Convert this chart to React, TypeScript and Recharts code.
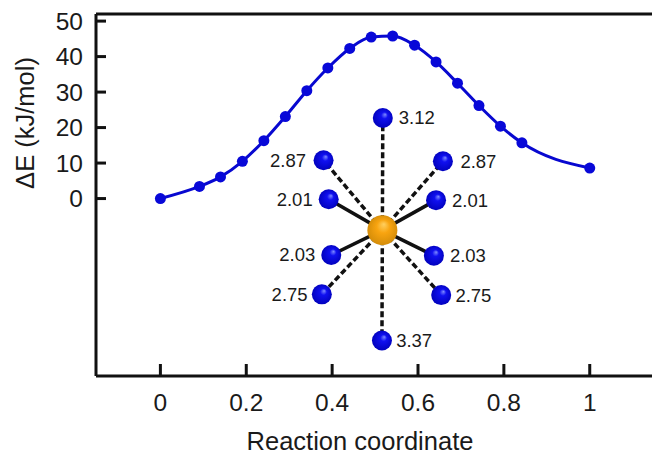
import { ComposedChart, Line, Scatter, XAxis, YAxis, ReferenceLine } from "recharts";

const pathX = [0, 0.091, 0.14, 0.191, 0.241, 0.291, 0.341, 0.39, 0.441, 0.491, 0.541, 0.592, 0.642, 0.692, 0.742, 0.792, 0.842, 1];
const pathE = [0, 3.4, 6.1, 10.5, 16.3, 23.1, 30.4, 36.8, 42.3, 45.5, 45.8, 43.2, 38.5, 32.5, 26.2, 20.4, 15.7, 8.6];

const xTicks = [0, 0.2, 0.4, 0.6, 0.8, 1];
const yTicks = [0, 10, 20, 30, 40, 50];

// molecule inset, in axis units
const centerAtom = { x: 0.517, y: -8.9 };
const ligandX = [0.518, 0.38, 0.658, 0.392, 0.642, 0.398, 0.637, 0.376, 0.654, 0.516];
const ligandY = [22.7, 10.8, 10.5, -0.2, -0.45, -15.9, -16.1, -27, -27.2, -40];
const ligandDist = ["3.12", "2.87", "2.87", "2.01", "2.01", "2.03", "2.03", "2.75", "2.75", "3.37"];
const ligandSide = ["right", "left", "right", "left", "right", "left", "right", "left", "right", "right"];
const ligandBond = ["dash", "dash", "dash", "solid", "solid", "solid", "solid", "dash", "dash", "dash"];

const pathData = pathX.map((x, i) => ({ x, e: pathE[i] }));
const ligands = ligandX.map((x, i) => ({
  x,
  y: ligandY[i],
  dist: ligandDist[i],
  side: ligandSide[i],
  bond: ligandBond[i],
}));

const FONT = "Liberation Sans, Arial, sans-serif";
const TEXT = "#1a1a1a";

// space between an atom and its distance label
const labelGap: Record<string, number> = { "2.87": 17.5, "2.75": 14.2, "3.37": 14.2 };

function Ligand(props: any) {
  const { cx, cy, payload } = props;
  const right = payload.side === "right";
  const gap = labelGap[payload.dist] ?? 16;
  return (
    <g>
      <circle cx={cx} cy={cy} r={10} fill="url(#blueAtom)" />
      <text
        x={cx + (right ? gap : -gap)}
        y={cy + 6.5}
        textAnchor={right ? "start" : "end"}
        fontSize={18.5}
        fontFamily={FONT}
        fill={TEXT}
      >
        {payload.dist}
      </text>
    </g>
  );
}

function Center(props: any) {
  return <circle cx={props.cx} cy={props.cy} r={15} fill="url(#goldAtom)" />;
}

export default function App() {
  return (
    <div style={{ position: "absolute", left: 0, top: 0, width: 652, height: 454, background: "#fff" }}>
      <ComposedChart width={652} height={454} data={pathData} margin={{ top: 14, right: 0, bottom: 0, left: 0 }}>
        <defs>
          <radialGradient id="blueAtom" cx="0.5" cy="0.5" r="0.55" fx="0.62" fy="0.32">
            <stop offset="0%" stopColor="#7f8cff" />
            <stop offset="30%" stopColor="#1010f0" />
            <stop offset="100%" stopColor="#0000b8" />
          </radialGradient>
          <radialGradient id="goldAtom" cx="0.5" cy="0.5" r="0.55" fx="0.55" fy="0.3">
            <stop offset="0%" stopColor="#ffd060" />
            <stop offset="40%" stopColor="#f8a410" />
            <stop offset="100%" stopColor="#d08a08" />
          </radialGradient>
        </defs>
        <XAxis
          dataKey="x"
          type="number"
          domain={[-0.15, 1.145]}
          allowDataOverflow
          ticks={xTicks}
          tickFormatter={(v) => String(v)}
          height={78}
          tickSize={-12}
          tickMargin={30}
          axisLine={{ stroke: "#111", strokeWidth: 3 }}
          tickLine={{ stroke: "#111", strokeWidth: 3 }}
          tick={{ fontSize: 24.5, fontFamily: FONT, fill: TEXT }}
        />
        <YAxis
          type="number"
          domain={[-50, 52]}
          allowDataOverflow
          ticks={yTicks}
          width={96}
          tickSize={-10}
          tickMargin={23}
          axisLine={{ stroke: "#111", strokeWidth: 3 }}
          tickLine={{ stroke: "#111", strokeWidth: 3 }}
          tick={{ fontSize: 24.5, fontFamily: FONT, fill: TEXT }}
        />
        <ReferenceLine y={52} stroke="#111" strokeWidth={3} />
        <Line
          dataKey="e"
          type="monotone"
          stroke="#0808d0"
          strokeWidth={3}
          dot={{ r: 5.5, fill: "#0808d8", stroke: "none" }}
          isAnimationActive={false}
        />
        {ligands.map((a, i) => (
          <Line
            key={i}
            data={[centerAtom, a]}
            dataKey="y"
            stroke="#111"
            strokeWidth={3.5}
            strokeDasharray={a.bond === "dash" ? "6 3" : undefined}
            dot={false}
            isAnimationActive={false}
          />
        ))}
        <Scatter data={ligands} dataKey="y" shape={Ligand} isAnimationActive={false} />
        <Scatter data={[centerAtom]} dataKey="y" shape={Center} isAnimationActive={false} />
        <text x={360} y={450} textAnchor="middle" fontSize={25.5} fontFamily={FONT} fill={TEXT}>
          Reaction coordinate
        </text>
        <text
          transform="translate(34,123) rotate(-90)"
          textAnchor="middle"
          fontSize={25.5}
          fontFamily={FONT}
          fill={TEXT}
        >
          ΔE (kJ/mol)
        </text>
      </ComposedChart>
    </div>
  );
}
